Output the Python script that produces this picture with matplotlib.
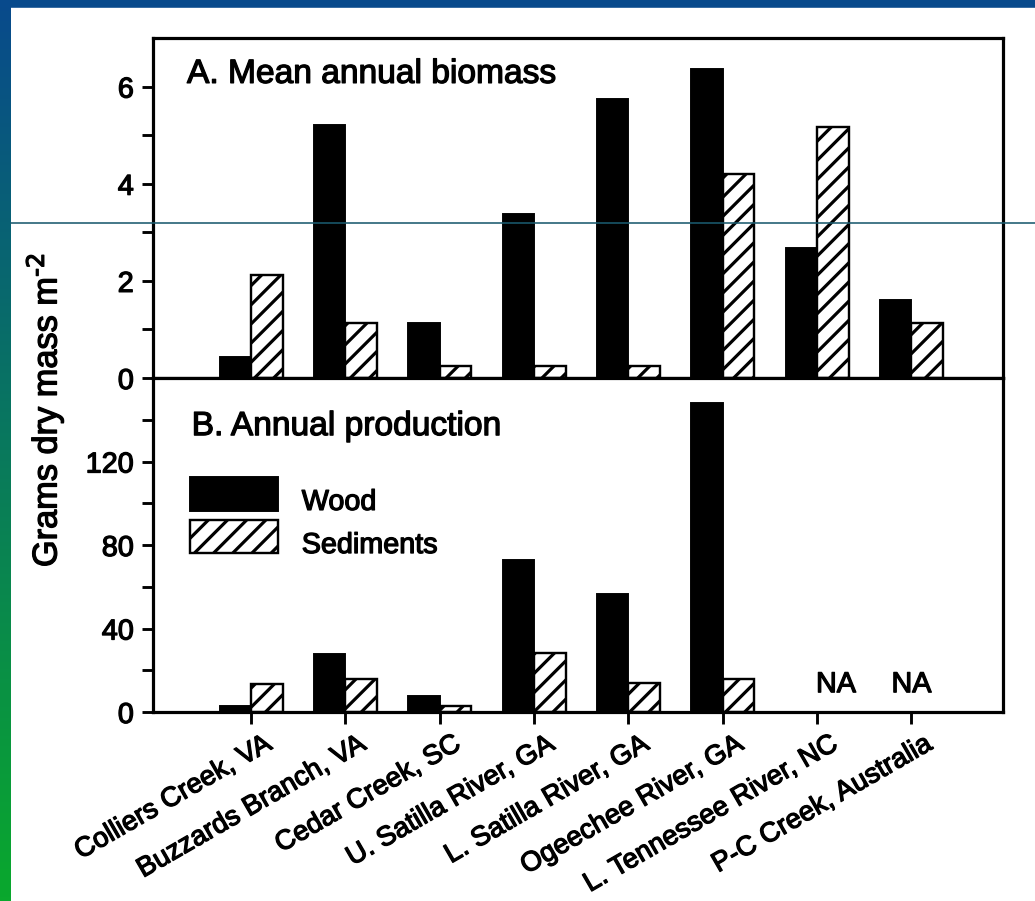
import matplotlib
matplotlib.use("Agg")
import matplotlib.pyplot as plt
import matplotlib.transforms as mtransforms
import matplotlib.patheffects as pe
from matplotlib.patches import Rectangle
from matplotlib.lines import Line2D
import numpy as np

sites = ["Colliers Creek, VA", "Buzzards Branch, VA", "Cedar Creek, SC",
         "U. Satilla River, GA", "L. Satilla River, GA", "Ogeechee River, GA",
         "L. Tennessee River, NC", "P-C Creek, Australia"]
wood_biomass = [0.43, 5.2, 1.14, 3.38, 5.75, 6.37, 2.68, 1.6]
sed_biomass = [2.13, 1.14, 0.24, 0.24, 0.24, 4.2, 5.16, 1.13]
wood_prod = [2.9, 28, 7.8, 72.6, 56.6, 148, np.nan, np.nan]
sed_prod = [13.3, 15.7, 3.0, 28.2, 13.8, 15.7, np.nan, np.nan]
na_pos = [6.2, 7.0]

plt.rcParams['font.family'] = ['Liberation Sans', 'DejaVu Sans']
plt.rcParams['mathtext.default'] = 'regular'
plt.rcParams['hatch.linewidth'] = 2.0

# slightly heavier strokes for all lettering
heavy = [pe.withStroke(linewidth=0.8, foreground="black")]

W, H, DPI = 1035, 901, 115
fig = plt.figure(figsize=(W / DPI, H / DPI), dpi=DPI)
fig.patch.set_facecolor("white")

# slide frame: blue top band and blue-to-green strip on the left
strip = fig.add_axes([0, 0, 11 / W, 1])
top_c = np.array([8, 74, 140]) / 255
bot_c = np.array([10, 168, 45]) / 255
t = np.linspace(0, 1, 256)[:, None]
grad = (top_c * (1 - t) + bot_c * t)[:, None, :]
strip.imshow(grad, aspect="auto", extent=[0, 1, 0, 1])
strip.axis("off")
fig.add_artist(Rectangle((0, 1 - 7 / H), 1, 7 / H, transform=fig.transFigure,
                         color="#084a8c", zorder=5))

left, right = 153 / W, 1003 / W
ya_top, yab, yb_bot = 1 - 38 / H, 1 - 378 / H, 1 - 712 / H
axA = fig.add_axes([left, yab, right - left, ya_top - yab])
axB = fig.add_axes([left, yb_bot, right - left, yab - yb_bot])

x = np.arange(len(sites))
bw = 0.335


def draw_panel(ax, wood, sed):
    ax.bar(x, wood, width=-bw, align="edge", color="black",
           edgecolor="black", linewidth=1.2)
    ax.bar(x, sed, width=bw, align="edge", color="white",
           edgecolor="black", linewidth=1.5, hatch="//")
    ax.set_xlim(-1.04, 7.97)
    ax.set_xticks(x)
    for sp in ax.spines.values():
        sp.set_linewidth(2.0)
    ax.tick_params(axis="both", which="both", direction="out", width=1.8,
                   labelsize=18, pad=5)
    ax.tick_params(axis="y", which="both", length=7)
    ax.tick_params(axis="x", length=7.5)


draw_panel(axA, wood_biomass, sed_biomass)
axA.set_ylim(0, 7)
axA.set_yticks([0, 2, 4, 6])
axA.set_yticks([1, 3, 5], minor=True)
axA.set_xticklabels([])
axA.text(0.040, 0.868, "A. Mean annual biomass", transform=axA.transAxes,
         fontsize=21, ha="left", va="baseline", path_effects=heavy)

draw_panel(axB, wood_prod, sed_prod)
axB.set_ylim(0, 160)
axB.set_yticks([0, 40, 80, 120])
axB.set_yticks([20, 60, 100, 140], minor=True)
axB.set_xticklabels(sites, rotation=30, ha="right", va="top",
                    rotation_mode="anchor", fontsize=17.2)
shift = mtransforms.ScaledTranslation(12 / DPI, 1 / DPI, fig.dpi_scale_trans)
for lab in axB.get_xticklabels():
    lab.set_transform(lab.get_transform() + shift)
axB.text(0.0455, 0.829, "B. Annual production", transform=axB.transAxes,
         fontsize=21, ha="left", va="baseline", path_effects=heavy)
for xpos in na_pos:
    axB.text(xpos, 9.5, "NA", ha="center", va="baseline", fontsize=18,
             path_effects=heavy)

for ax in (axA, axB):
    for lab in ax.get_xticklabels() + ax.get_yticklabels():
        lab.set_path_effects(heavy)

# legend boxes
axB.add_patch(Rectangle((0.0435, 0.602), 0.1035, 0.102, transform=axB.transAxes,
                        facecolor="black", edgecolor="black", linewidth=1.2,
                        clip_on=False))
axB.add_patch(Rectangle((0.0435, 0.476), 0.1035, 0.100, transform=axB.transAxes,
                        facecolor="white", edgecolor="black", linewidth=1.5,
                        hatch="//", clip_on=False))
axB.text(0.175, 0.605, "Wood", transform=axB.transAxes, fontsize=18,
         va="baseline", path_effects=heavy)
axB.text(0.175, 0.476, "Sediments", transform=axB.transAxes, fontsize=18,
         va="baseline", path_effects=heavy)

fig.text(45 / W, 1 - 410 / H, r"Grams dry mass m$^{\text{-2}}$", rotation=90,
         ha="center", va="center", fontsize=21.5, path_effects=heavy)

# thin rule across the slide
fig.add_artist(Line2D([11 / W, 1], [1 - 222.5 / H] * 2, transform=fig.transFigure,
                      color="#1a5a6e", linewidth=1.0, zorder=10))

fig.savefig("out.png", dpi=DPI)
